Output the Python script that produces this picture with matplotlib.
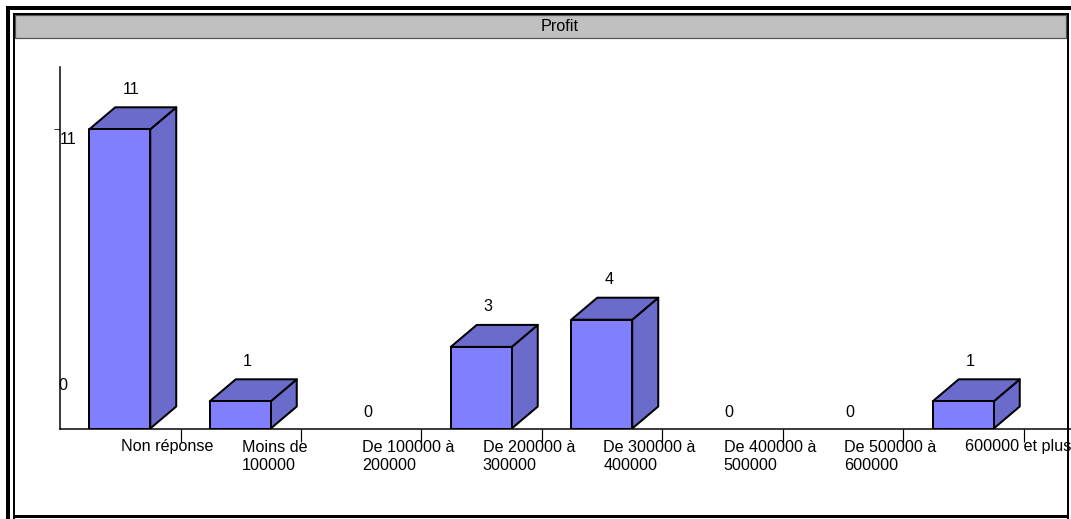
import matplotlib
matplotlib.use("Agg")
import matplotlib.pyplot as plt
from matplotlib.patches import Rectangle, Polygon

plt.rcParams['font.family'] = ['Liberation Sans', 'DejaVu Sans']

# Data
title = "Profit"
categories = ["Non réponse", "Moins de\n100000", "De 100000 à\n200000",
              "De 200000 à\n300000", "De 300000 à\n400000", "De 400000 à\n500000",
              "De 500000 à\n600000", "600000 et plus"]
counts = [11, 1, 0, 3, 4, 0, 0, 1]
ytick_labels = {11: "11", 0: "0"}

W, H = 1071, 519
DPI = 100
PX = 72.0 / DPI  # points per pixel
FS = 11.6

front_color = "#8080ff"
shade_color = "#6b6bcc"
edge_lw = 2.0 * PX

fig = plt.figure(figsize=(W / DPI, H / DPI), dpi=DPI)
fig.patch.set_facecolor("white")

# Frame / title band drawn in a pixel-space background axes
bg = fig.add_axes([0, 0, 1, 1], zorder=0)
bg.set_xlim(0, W)
bg.set_ylim(H, 0)
bg.axis("off")
# outer thick border (left and top)
bg.add_patch(Rectangle((6, 6), 4, H - 6, facecolor="black", edgecolor="none"))
bg.add_patch(Rectangle((6, 6), W - 6, 4, facecolor="black", edgecolor="none"))
# inner frame
bg.add_patch(Rectangle((13, 13), 1.5, H - 13, facecolor="black", edgecolor="none"))
bg.add_patch(Rectangle((1067, 13), 2, H - 13, facecolor="black", edgecolor="none"))
bg.add_patch(Rectangle((13, 515), 1056, 3, facecolor="black", edgecolor="none"))
bg.add_patch(Rectangle((13, 13), 1056, 1.5, facecolor="black", edgecolor="none"))
# title band
bg.add_patch(Rectangle((15, 14.5), 1051, 23, facecolor="#c0c0c0",
                       edgecolor="#505050", linewidth=1.2 * PX))
bg.text(560, 26.5, title, ha="center", va="center", fontsize=FS)

# Plot area
base_px = 428.5
top_px = 67
left_px = 60
ppu = 27.2                      # pixels per count unit
cat_px = 120.5                  # pixels per category
ymax = (base_px - top_px) / ppu
ax = fig.add_axes([left_px / W, (H - base_px) / H, (W - left_px) / W,
                   (base_px - top_px) / H], zorder=1)
ax.patch.set_alpha(0)
ax.set_xlim(-0.5, -0.5 + (W - left_px) / cat_px)
ax.set_ylim(0, ymax)
for s in ("top", "right"):
    ax.spines[s].set_visible(False)
ax.spines["left"].set_linewidth(1.5 * PX)
ax.spines["bottom"].set_linewidth(1.5 * PX)

n = len(categories)
ax.set_xticks([i + 0.5 for i in range(n)])
ax.set_xticklabels([])
ax.tick_params(axis="x", direction="out", length=13 * PX, width=1.2 * PX)
ax.set_yticks([11])
ax.set_yticklabels([])
ax.tick_params(axis="y", direction="out", length=6 * PX, width=1 * PX,
               color="#333333")

# 3D bar geometry in data units
half_l = 31 / cat_px
half_r = 30 / cat_px
dx = 26 / cat_px
dy = 22 / ppu

for i, v in enumerate(counts):
    xl, xr = i - half_l, i + half_r
    if v > 0:
        ax.add_patch(Polygon([(xr, 0), (xr + dx, dy), (xr + dx, v + dy), (xr, v)],
                             closed=True, facecolor=shade_color, edgecolor="black",
                             linewidth=edge_lw, joinstyle="round", zorder=2))
        ax.add_patch(Polygon([(xl, v), (xl + dx, v + dy), (xr + dx, v + dy), (xr, v)],
                             closed=True, facecolor=shade_color, edgecolor="black",
                             linewidth=edge_lw, joinstyle="round", zorder=2))
        ax.add_patch(Rectangle((xl, 0), xr - xl, v, facecolor=front_color,
                               edgecolor="black", linewidth=edge_lw,
                               joinstyle="round", zorder=3))
        off = 40
    else:
        off = 16
    ax.annotate(str(v), xy=(i, v), xytext=(2, off), textcoords="offset pixels",
                ha="left", va="center", fontsize=FS, annotation_clip=False)
    ax.annotate(categories[i], xy=(i, 0), xytext=(1, -11), textcoords="offset pixels",
                ha="left", va="top", fontsize=FS, linespacing=1.28,
                annotation_clip=False)

# Value-axis labels
ax.annotate(ytick_labels[11], xy=(-0.5, 11), xytext=(8, -10), textcoords="offset pixels",
            ha="center", va="center", fontsize=FS, annotation_clip=False)
ax.annotate(ytick_labels[0], xy=(-0.5, 0), xytext=(3, 43), textcoords="offset pixels",
            ha="center", va="center", fontsize=FS, annotation_clip=False)

fig.savefig("out.png", dpi=DPI)
